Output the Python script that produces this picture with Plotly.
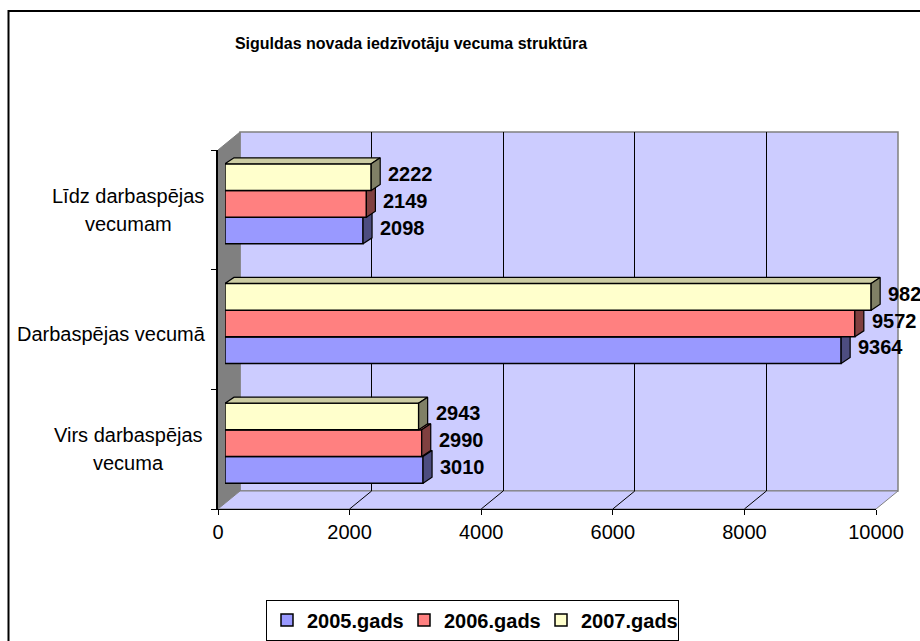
import plotly.graph_objects as go

# ---------------- data ----------------
categories = ["Virs darbaspējas<br>vecuma", "Darbaspējas vecumā", "Līdz darbaspējas<br>vecumam"]
series_names = ["2005.gads", "2006.gads", "2007.gads"]
values_2005 = [3010, 9364, 2098]
values_2006 = [2990, 9572, 2149]
values_2007 = [2943, 9820, 2222]
x_ticks = [0, 2000, 4000, 6000, 8000, 10000]
x_tick_labels = ["0", "2000", "4000", "6000", "8000", "10000"]
title_text = "Siguldas novada iedzīvotāju vecuma struktūra"

# ---------------- geometry / style ----------------
W, H = 920, 641
FONT = "Liberation Sans, Arial, sans-serif"
FS = 20


def fx(px):
    return px / W


def fy(py):
    return 1 - py / H


FX0, FX1 = 218, 876      # front plane x (0 .. 10000)
FY0, FY1 = 150, 509      # front plane y (top, bottom)
WALL_DX, WALL_DY = 22, 18
BAR_DX, BAR_DY = 7, 6
SIDE_DX, SIDE_DY = 9, 6
XMAX = 10000
sx = (FX1 - FX0) / XMAX
sy = (FY1 - FY0) / 3.0
BW = 0.223

front_cols = ["#9999FF", "#FF8080", "#FFFFCC"]
side_cols = ["#4D4D80", "#804040", "#808066"]
top_cols = ["#7A7ACC", "#CC6666", "#CCCCA3"]
series_vals = [values_2005, values_2006, values_2007]

fig = go.Figure()

fig.add_trace(go.Scatter(x=[], y=[], xaxis="x2", yaxis="y2", showlegend=False, hoverinfo="skip"))
fig.add_trace(go.Scatter(x=[], y=[], xaxis="x", yaxis="y", showlegend=False, hoverinfo="skip"))

DXu = SIDE_DX / sx
DYu = SIDE_DY / sy
annotations = []
for i, (name, vals) in enumerate(zip(series_names, series_vals)):
    ax_id = str(3 + i)
    xa, ya = "x" + ax_id, "y" + ax_id
    k = i - 1
    yc = [c + k * BW for c in range(len(categories))]
    fig.add_trace(go.Bar(
        x=vals, y=yc, orientation="h", width=BW, name=name,
        marker=dict(color=front_cols[i], line=dict(color="black", width=1.5)),
        xaxis=xa, yaxis=ya, hoverinfo="x+name",
    ))
    h = BW / 2
    tx, ty, sxp, syp = [], [], [], []
    for v, y in zip(vals, yc):
        tx += [0, v, v + DXu, DXu, 0, None]
        ty += [y + h, y + h, y + h + DYu, y + h + DYu, y + h, None]
        sxp += [v, v, v + DXu, v + DXu, v, None]
        syp += [y - h, y + h, y + h + DYu, y - h + DYu, y - h, None]
    fig.add_trace(go.Scatter(x=tx, y=ty, fill="toself", fillcolor=top_cols[i], mode="lines",
                             line=dict(color="black", width=1.2), xaxis=xa, yaxis=ya,
                             showlegend=False, hoverinfo="skip"))
    fig.add_trace(go.Scatter(x=sxp, y=syp, fill="toself", fillcolor=side_cols[i], mode="lines",
                             line=dict(color="black", width=1.2), xaxis=xa, yaxis=ya,
                             showlegend=False, hoverinfo="skip"))
    for v, y in zip(vals, yc):
        annotations.append(dict(x=v, y=y, xref=xa, yref=ya, xanchor="left", yanchor="middle",
                                xshift=SIDE_DX + 6, yshift=3, showarrow=False, text=str(v),
                                font=dict(family=FONT, size=FS, color="black", weight="bold")))

# category labels (lines centred, 28 px line pitch)
for c, lab in enumerate(categories):
    lines = lab.split("<br>")
    if len(lines) == 1:
        annotations.append(dict(x=fx(208), y=c, xref="paper", yref="y", xanchor="right",
                                yanchor="middle", showarrow=False, text=lines[0], yshift=-4,
                                font=dict(family=FONT, size=FS, color="black")))
    else:
        for j, ln in enumerate(lines):
            annotations.append(dict(x=fx(128), y=c, xref="paper", yref="y", xanchor="center",
                                    yanchor="middle", showarrow=False, text=ln,
                                    yshift=14 - 28 * j,
                                    font=dict(family=FONT, size=FS, color="black")))

shapes = [
    dict(type="rect", xref="paper", yref="paper", x0=fx(8.5), y0=fy(11), x1=1.05, y1=-0.05,
         line=dict(color="black", width=2), layer="below"),
    dict(type="rect", xref="paper", yref="paper", x0=fx(FX0 + WALL_DX), y0=fy(FY1 - WALL_DY),
         x1=fx(FX1 + WALL_DX), y1=fy(FY0 - WALL_DY), fillcolor="#CCCCFF",
         line=dict(color="#808080", width=1.5), layer="below"),
    dict(type="path", xref="paper", yref="paper",
         path=f"M {fx(FX0)},{fy(FY0)} L {fx(FX0 + WALL_DX)},{fy(FY0 - WALL_DY)} "
              f"L {fx(FX0 + WALL_DX)},{fy(FY1 - WALL_DY)} L {fx(FX0)},{fy(FY1)} Z",
         fillcolor="#808080", line=dict(color="#808080", width=1), layer="below"),
    dict(type="path", xref="paper", yref="paper",
         path=f"M {fx(FX0)},{fy(FY1)} L {fx(FX0 + WALL_DX)},{fy(FY1 - WALL_DY)} "
              f"L {fx(FX1 + WALL_DX)},{fy(FY1 - WALL_DY)} L {fx(FX1)},{fy(FY1)} Z",
         fillcolor="#CCCCFF", line=dict(color="#808080", width=1), layer="below"),
]
for t in x_ticks[1:-1]:
    shapes.append(dict(type="line", xref="x", yref="paper", x0=t, y0=fy(FY1),
                       x1=t + WALL_DX / sx, y1=fy(FY1 - WALL_DY),
                       line=dict(color="black", width=1), layer="below"))

hidden = dict(showgrid=False, zeroline=False, showticklabels=False, showline=False, ticks="",
              fixedrange=True, automargin=False)

layout = dict(
    width=W, height=H,
    margin=dict(l=0, r=0, t=0, b=0, autoexpand=False),
    paper_bgcolor="white", plot_bgcolor="rgba(0,0,0,0)",
    barmode="overlay",
    title=dict(text=title_text, x=fx(411), xanchor="center", y=fy(43), yanchor="middle",
               font=dict(family=FONT, size=16, color="black", weight="bold")),
    xaxis=dict(domain=[fx(FX0), fx(FX1)], range=[0, XMAX], tickvals=x_ticks,
               ticktext=x_tick_labels, automargin=False,
               ticks="outside", ticklen=5, tickcolor="black", showline=True, linecolor="black",
               linewidth=1, showgrid=False, zeroline=False, anchor="y", fixedrange=True,
               tickfont=dict(family=FONT, size=FS, color="black")),
    yaxis=dict(domain=[fy(FY1), fy(FY0)], range=[-0.5, 2.5], tickvals=[-0.5, 0.5, 1.5, 2.5],
               ticktext=["", "", "", ""], ticks="outside", ticklen=5, tickcolor="black",
               showline=True, linecolor="black", linewidth=2, showgrid=False, zeroline=False,
               anchor="x", fixedrange=True, automargin=False),
    xaxis2=dict(domain=[fx(FX0 + WALL_DX), fx(FX1 + WALL_DX)], range=[0, XMAX],
                tickvals=x_ticks[1:-1], showgrid=True, gridcolor="black", gridwidth=1,
                zeroline=False, showticklabels=False, ticks="", showline=False, anchor="y2",
                fixedrange=True, automargin=False),
    yaxis2=dict(domain=[fy(FY1 - WALL_DY), fy(FY0 - WALL_DY)], range=[-0.5, 2.5], anchor="x2", **hidden),
    showlegend=True,
    legend=dict(orientation="h", x=fx(266), y=fy(640.5), xanchor="left", yanchor="bottom",
                bordercolor="black", borderwidth=1, bgcolor="white", entrywidth=92,
                font=dict(family=FONT, size=FS, color="black", weight="bold")),
    shapes=shapes,
    annotations=annotations,
)
for i in range(3):
    ax_id = str(3 + i)
    layout["xaxis" + ax_id] = dict(domain=[fx(FX0 + BAR_DX), fx(FX1 + BAR_DX)], range=[0, XMAX],
                                   anchor="y" + ax_id, **hidden)
    layout["yaxis" + ax_id] = dict(domain=[fy(FY1 - BAR_DY), fy(FY0 - BAR_DY)], range=[-0.5, 2.5],
                                   anchor="x" + ax_id, **hidden)

fig.update_layout(**layout)
fig.write_html("out.html", config={"displayModeBar": False},
               post_script="document.body.style.margin='0';")
